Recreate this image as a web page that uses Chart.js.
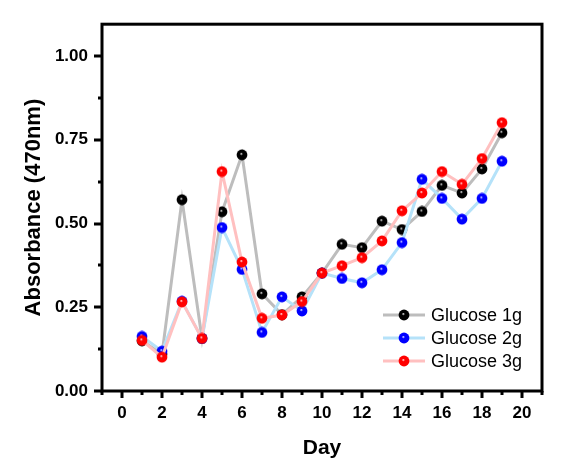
<!DOCTYPE html>
<html>
<head>
<meta charset="utf-8">
<script src="https://cdn.jsdelivr.net/npm/chart.js@4.4.1/dist/chart.umd.min.js"></script>
<style>
  html, body { margin: 0; padding: 0; background: #fff; }
  #chart { display: block; }
</style>
</head>
<body>
<canvas id="chart" width="565" height="475"></canvas>
<script>
const days = [1, 2, 3, 4, 5, 6, 7, 8, 9, 10, 11, 12, 13, 14, 15, 16, 17, 18, 19];
const glucose1g = [0.150, 0.110, 0.571, 0.157, 0.535, 0.705, 0.290, 0.228, 0.281, 0.352, 0.438, 0.428, 0.507, 0.482, 0.536, 0.614, 0.591, 0.663, 0.771];
const glucose2g = [0.163, 0.119, 0.268, 0.157, 0.488, 0.363, 0.175, 0.281, 0.239, 0.352, 0.336, 0.323, 0.362, 0.443, 0.632, 0.575, 0.513, 0.575, 0.686];
const glucose3g = [0.151, 0.101, 0.266, 0.157, 0.655, 0.385, 0.217, 0.227, 0.267, 0.352, 0.374, 0.398, 0.448, 0.538, 0.591, 0.655, 0.617, 0.694, 0.801];
const seriesNames = ['Glucose 1g', 'Glucose 2g', 'Glucose 3g'];
const xTickLabels = ['0', '2', '4', '6', '8', '10', '12', '14', '16', '18', '20'];
const yTickLabels = ['0.00', '0.25', '0.50', '0.75', '1.00'];

// shiny ball marker like the Origin plot
function ballSprite(color) {
    const c = document.createElement('canvas');
    c.width = 12; c.height = 12;
    const g = c.getContext('2d');
    const grad = g.createRadialGradient(5.2, 4.8, 0, 6, 6, 5.5);
    grad.addColorStop(0, '#ffffff');
    grad.addColorStop(0.28, color);
    grad.addColorStop(1, color);
    g.fillStyle = grad;
    g.beginPath();
    g.arc(6, 6, 5.4, 0, Math.PI * 2);
    g.fill();
    return c;
}

const lineColors = ['#bdbdbd', '#b5e2f9', '#ffc0c0'];
const dotColors = ['#000000', '#0000ff', '#ff0000'];
const sprites = dotColors.map(ballSprite);

function makeSet(i, values, order) {
    return {
        label: seriesNames[i],
        data: days.map((d, k) => ({ x: d, y: values[k] })),
        borderColor: lineColors[i],
        borderWidth: 3,
        pointStyle: sprites[i],
        pointRadius: 5,
        tension: 0,
        order: order
    };
}

const frameAndTicks = {
    id: 'frameAndTicks',
    afterDatasetsDraw(chart) {
        const ctx = chart.ctx;
        const a = chart.chartArea;
        const xs = chart.scales.x, ys = chart.scales.y;
        ctx.save();
        ctx.strokeStyle = '#000';
        ctx.lineWidth = 3;
        ctx.beginPath();
        for (let d = xs.min; d <= xs.max; d++) {
            const px = Math.round(xs.getPixelForValue(d));
            const len = d % 2 === 0 ? 7 : 4;
            ctx.moveTo(px, a.bottom);
            ctx.lineTo(px, a.bottom + len);
        }
        for (let v = 0; v <= 1.0001; v += 0.125) {
            const py = Math.round(ys.getPixelForValue(v));
            const len = Math.round(v * 8) % 2 === 0 ? 8 : 4;
            ctx.moveTo(a.left, py);
            ctx.lineTo(a.left - len, py);
        }
        ctx.stroke();
        ctx.strokeRect(a.left, a.top, a.right - a.left, a.bottom - a.top);
        ctx.restore();
    }
};

const boxLegend = {
    id: 'boxLegend',
    afterDraw(chart) {
        const ctx = chart.ctx;
        const rows = [315, 338, 361];
        ctx.save();
        ctx.font = '18px "Liberation Sans", Arial, sans-serif';
        ctx.textBaseline = 'middle';
        ctx.fillStyle = '#000';
        chart.data.datasets.forEach((ds, i) => {
            const y = rows[i];
            ctx.strokeStyle = ds.borderColor;
            ctx.lineWidth = 3;
            ctx.beginPath();
            ctx.moveTo(383, y);
            ctx.lineTo(425, y);
            ctx.stroke();
            ctx.drawImage(ds.pointStyle, 404 - 6, y - 6);
            ctx.fillText(ds.label, 431, y + 1);
        });
        ctx.restore();
    }
};

const ctx = document.getElementById('chart').getContext('2d');
new Chart(ctx, {
    type: 'line',
    data: {
        datasets: [
            makeSet(0, glucose1g, 3),
            makeSet(1, glucose2g, 2),
            makeSet(2, glucose3g, 1)
        ]
    },
    options: {
        responsive: false,
        animation: false,
        layout: { padding: { top: 20, right: 23, left: 0, bottom: 0 } },
        plugins: {
            legend: { display: false },
            tooltip: { enabled: false }
        },
        scales: {
            x: {
                type: 'linear',
                min: -1,
                max: 21,
                grid: { display: false, drawTicks: false },
                border: { display: false },
                afterFit(scale) { scale.height = 84; },
                ticks: {
                    stepSize: 1,
                    autoSkip: false,
                    includeBounds: false,
                    maxRotation: 0,
                    padding: 12,
                    color: '#000',
                    font: { family: '"Liberation Sans", Arial, sans-serif', size: 17, weight: 'bold' },
                    callback: v => xTickLabels.includes(String(v)) ? String(v) : ''
                },
                title: {
                    display: true,
                    text: 'Day',
                    color: '#000',
                    font: { family: '"Liberation Sans", Arial, sans-serif', size: 21, weight: 'bold' },
                    padding: { top: 0, bottom: 14 }
                }
            },
            y: {
                min: 0,
                max: 1.095,
                grid: { display: false, drawTicks: false },
                border: { display: false },
                afterFit(scale) { scale.width = 102; },
                ticks: {
                    stepSize: 0.25,
                    includeBounds: false,
                    padding: 14,
                    color: '#000',
                    font: { family: '"Liberation Sans", Arial, sans-serif', size: 17, weight: 'bold' },
                    callback: v => {
                        const s = v.toFixed(2);
                        return yTickLabels.includes(s) ? s : '';
                    }
                },
                title: {
                    display: true,
                    text: 'Absorbance (470nm)',
                    color: '#000',
                    font: { family: '"Liberation Sans", Arial, sans-serif', size: 22, weight: 'bold' },
                    padding: { top: 21, bottom: 0 }
                }
            }
        }
    },
    plugins: [frameAndTicks, boxLegend]
});
</script>
</body>
</html>
